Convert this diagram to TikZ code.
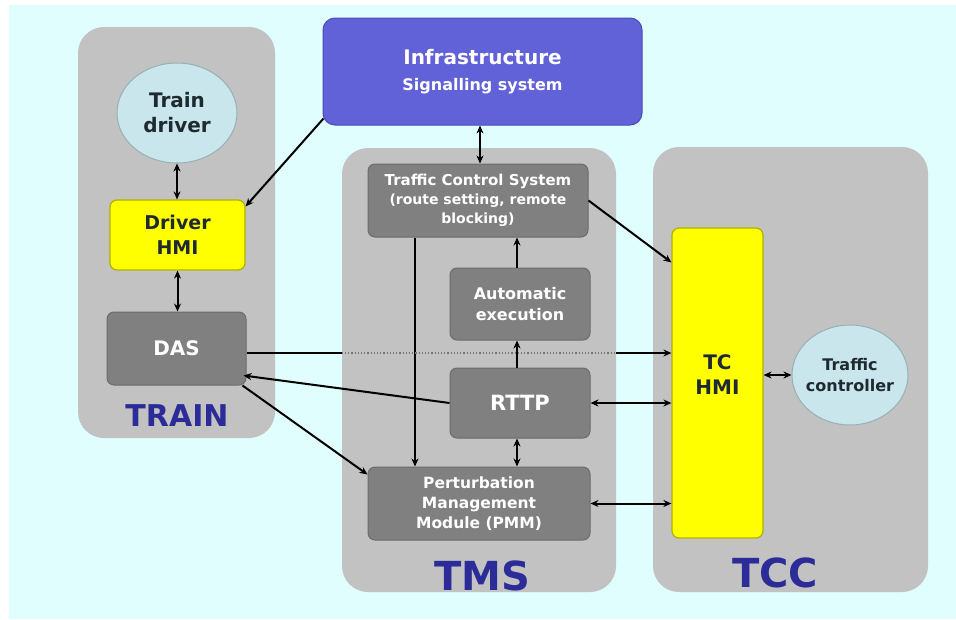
\documentclass[tikz,border=0pt]{standalone}
\usepackage{fontspec}
\setmainfont{DejaVu Sans}
\usetikzlibrary{arrows.meta,calc,shapes.geometric}
\definecolor{bgc}{HTML}{E0FEFE}
\definecolor{panelc}{HTML}{C2C2C2}
\definecolor{boxc}{HTML}{808080}
\definecolor{boxd}{HTML}{6C6C6C}
\definecolor{infrac}{HTML}{6262D8}
\definecolor{infrad}{HTML}{4A4AB8}
\definecolor{yelc}{HTML}{FFFF00}
\definecolor{yeld}{HTML}{B0B000}
\definecolor{ellc}{HTML}{C8E6EC}
\definecolor{elld}{HTML}{98B0B4}
\definecolor{labc}{HTML}{2C2C98}
\definecolor{txtc}{HTML}{1E2A30}
\newcommand{\fsz}[2]{\fontsize{#1}{#2}\selectfont}
\tikzset{
  panel/.style={rectangle,rounded corners=26pt,fill=panelc,draw=none,inner sep=0pt},
  graybox/.style={rectangle,rounded corners=7pt,fill=boxc,draw=boxd,line width=1pt,text=white,align=center,inner sep=0pt},
  yelbox/.style={rectangle,rounded corners=7pt,fill=yelc,draw=yeld,line width=1.2pt,text=txtc,align=center,inner sep=0pt},
  ellnode/.style={ellipse,fill=ellc,draw=elld,line width=1pt,text=txtc,align=center,inner sep=0pt},
  biglab/.style={text=labc,inner sep=0pt},
  conn/.style={line width=2pt,black},
  arr/.style={conn,-{Stealth[length=8pt,width=7pt]}},
  darr/.style={conn,{Stealth[length=8pt,width=7pt]}-{Stealth[length=8pt,width=7pt]}},
}
\begin{document}
\begin{tikzpicture}[x=1pt,y=-1pt]
\useasboundingbox (0,0) rectangle (956,619);
\fill[white] (0,0) rectangle (956,619);
\fill[bgc] (9,5) rectangle (956,619);
% panels
\node[panel,minimum width=197pt,minimum height=411pt] (trainP) at (176.5,232.5) {};
\node[panel,minimum width=274pt,minimum height=444pt] (tmsP) at (479,370) {};
\node[panel,minimum width=275pt,minimum height=445pt] (tccP) at (790.5,369.5) {};
% infrastructure
\node[rectangle,rounded corners=12pt,fill=infrac,draw=infrad,line width=1pt,text=white,align=center,inner sep=0pt,font=\bfseries\fsz{20}{26},minimum width=319pt,minimum height=107pt] (infra) at (482.5,71.5)
  {Infrastructure\\\fsz{16}{20}Signalling system};
% train side
\node[ellnode,font=\bfseries\fsz{20}{25},minimum width=120pt,minimum height=100pt] (driver) at (177,113)
  {Train\\driver};
\node[yelbox,font=\bfseries\fsz{19}{25},minimum width=135pt,minimum height=70pt] (dhmi) at (177.5,235)
  {Driver\\HMI};
\node[graybox,font=\bfseries\fsz{20}{24},minimum width=139pt,minimum height=73pt] (das) at (176.5,348.5)
  {DAS};
\node[biglab,font=\bfseries\fsz{30}{30}] (trainL) at (177,416) {TRAIN};
% TMS
\node[graybox,font=\bfseries\fsz{15}{19},minimum width=220pt,minimum height=73pt] (tcs) at (478,200.5)
  {Traffic Control System\\\fsz{14}{19}(route setting, remote\\\fsz{14}{19}blocking)};
\node[graybox,font=\bfseries\fsz{16}{21},minimum width=140pt,minimum height=72pt] (ae) at (520,304)
  {Automatic\\execution};
\node[graybox,font=\bfseries\fsz{21}{24},minimum width=140pt,minimum height=70pt] (rttp) at (520,403)
  {RTTP};
\node[graybox,font=\bfseries\fsz{15.5}{20},minimum width=222pt,minimum height=73pt] (pmm) at (479,503.5)
  {Perturbation\\Management\\Module (PMM)};
\node[biglab,font=\bfseries\fsz{40}{40}] (tmsL) at (482,576) {TMS};
% TCC
\node[yelbox,minimum width=91pt,minimum height=310pt] (tchmi) at (717.5,383) {};
\node[text=txtc,align=center,inner sep=0pt,font=\bfseries\fsz{20}{25}] (tchmiT) at (717.5,375) {TC\\HMI};
\node[ellnode,font=\bfseries\fsz{16}{21},inner sep=-3.5pt,minimum width=116pt,minimum height=100pt] (tctrl) at (850,375)
  {Traffic\\controller};
\node[biglab,font=\bfseries\fsz{40}{40}] (tccL) at (775,573) {TCC};
% coordinates for the DAS -> TC HMI line
\coordinate (d1) at (das.east |- 0,353);
\coordinate (d2) at (tmsP.west |- 0,353);
\coordinate (d3) at (tmsP.east |- 0,353);
\coordinate (d4) at (tchmi.west |- 0,353);
% connectors
\draw[darr] (driver.south) -- (driver.south |- dhmi.north);
\draw[darr] (dhmi.south) -- (dhmi.south |- das.north);
\draw[arr] ($(infra.south west)+(1,-7)$) -- ($(dhmi.north east)+(0,7)$);
\draw[darr] (infra.south -| 480,0) -- (tcs.north -| 480,0);
\draw[arr] (tcs.east) -- ($(tchmi.north west)+(0,35)$);
\draw[arr] (tcs.south -| 415,0) -- (pmm.north -| 415,0);
\draw[arr] (ae.north -| 517,0) -- (tcs.south -| 517,0);
\draw[arr] (rttp.north -| 517,0) -- (ae.south -| 517,0);
\draw[darr] (rttp.south -| 517,0) -- (pmm.north -| 517,0);
\draw[darr] (rttp.east) -- (rttp.east -| tchmi.west);
\draw[darr] (pmm.east) -- (pmm.east -| tchmi.west);
\draw[conn] (d1) -- (d2);
\draw[line width=1.2pt,black!55,dotted] (d2) -- (d3);
\draw[arr] (d3) -- (d4);
\draw[arr] (rttp.west) -- ($(das.south east)+(-3,-10)$);
\draw[arr] ($(das.south east)+(-4,0)$) -- ($(pmm.north west)+(0,8)$);
\draw[darr] (tchmi.east |- tctrl.west) -- (tctrl.west);
\end{tikzpicture}
\end{document}
